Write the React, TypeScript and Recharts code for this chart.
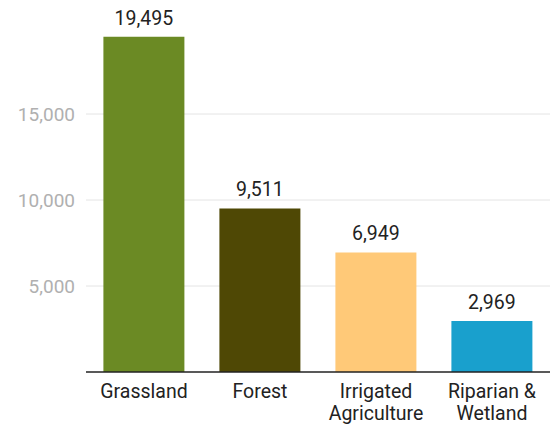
import { BarChart, Bar, XAxis, YAxis, CartesianGrid, Cell, LabelList, Text } from 'recharts';

// land cover categories and their totals
const categories = ['Grassland', 'Forest', 'Irrigated Agriculture', 'Riparian & Wetland'];
const totals = [19495, 9511, 6949, 2969];
const barColors = ['#6b8a24', '#4f4805', '#ffc978', '#19a0cd'];
const yTicks = [5000, 10000, 15000];

const data = categories.map((name, i) => ({ name, value: totals[i] }));

const FONT = 'Roboto, "Noto Sans", sans-serif';
const fmt = (v: number) => v.toLocaleString('en-US');

// x tick that wraps long category names onto two lines
function CategoryTick({ x, y, payload }: any) {
  return (
    <Text
      x={x}
      y={y + 2}
      width={105}
      textAnchor="middle"
      verticalAnchor="start"
      lineHeight={22.5}
      fontSize={19.5}
      fontFamily={FONT}
      fill="#222"
    >
      {payload.value}
    </Text>
  );
}

export default function App() {
  return (
    <div style={{ position: 'absolute', left: 0, top: 0 }}>
      <BarChart
        width={555}
        height={426}
        data={data}
        margin={{ top: 28, right: 5, left: 0, bottom: 0 }}
        barCategoryGap="15%"
      >
        <CartesianGrid vertical={false} stroke="#e4e4e4" horizontalValues={yTicks} />
        <XAxis
          dataKey="name"
          height={54}
          tickLine={false}
          axisLine={{ stroke: '#222', strokeWidth: 1.5 }}
          tick={<CategoryTick />}
          tickMargin={4}
          interval={0}
        />
        <YAxis
          width={86}
          domain={[0, 20000]}
          ticks={yTicks}
          axisLine={false}
          tickLine={false}
          tickMargin={5}
          tickFormatter={fmt}
          tick={{ fill: '#b0b0b0', fontSize: 19, fontFamily: FONT }}
        />
        <Bar dataKey="value" isAnimationActive={false}>
          {data.map((d, i) => (
            <Cell key={d.name} fill={barColors[i]} />
          ))}
          <LabelList
            dataKey="value"
            position="top"
            offset={12}
            formatter={(v: any) => fmt(Number(v))}
            style={{ fill: '#222', fontSize: 19.5, fontFamily: FONT }}
          />
        </Bar>
      </BarChart>
    </div>
  );
}
